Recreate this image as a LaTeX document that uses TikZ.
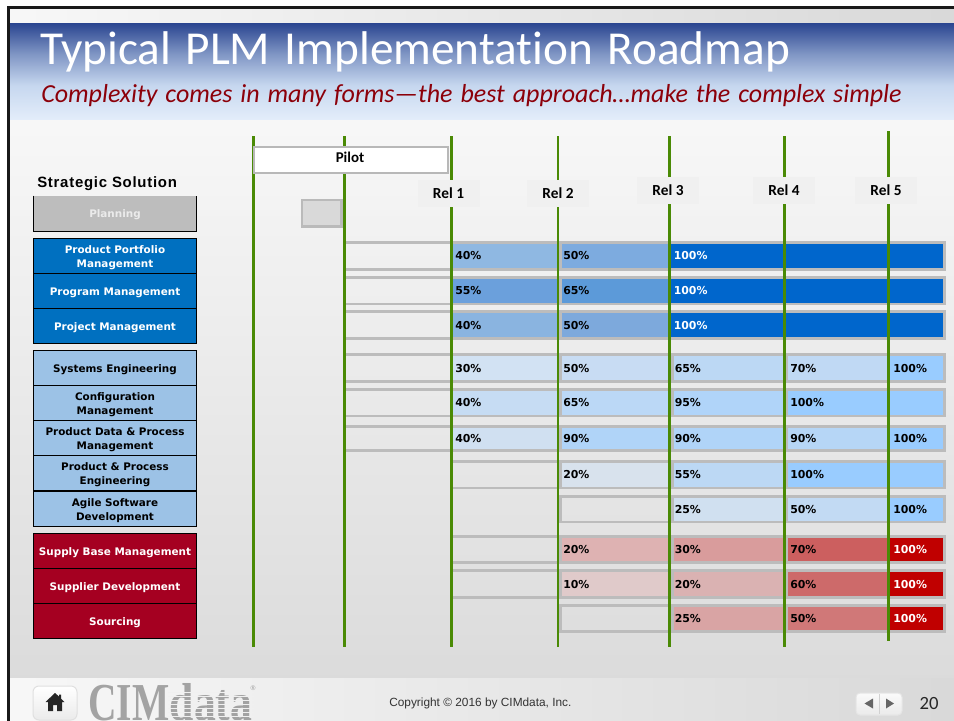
\documentclass[tikz,border=0pt]{standalone}
\usepackage{fontspec}
\setmainfont{Carlito}[Ligatures=NoCommon]
\newfontfamily\ttlfnt{Carlito}[WordSpace=1.3,Ligatures=NoCommon]
\newfontfamily\subfnt{Carlito}[WordSpace=1.35,Ligatures=NoCommon]
\newfontfamily\djv{DejaVu Sans}
\newfontfamily\lib{Liberation Sans}
\newfontfamily\libsp[LetterSpace=5]{Liberation Sans}
\newfontfamily\tms{Liberation Serif}
\definecolor{grn}{HTML}{4A8A05}
\definecolor{brd}{HTML}{BCBCBC}
\definecolor{bandA}{HTML}{2A4590}
\definecolor{bandB}{HTML}{7F95C4}
\definecolor{bandC}{HTML}{C6D7EF}
\definecolor{bandD}{HTML}{E3EDFA}
\pgfdeclareverticalshading{bandshade}{100bp}{color(0bp)=(bandD); color(25bp)=(bandD); color(42.5bp)=(bandC); color(59bp)=(bandB); color(75bp)=(bandA); color(100bp)=(bandA)}
\tikzset{
  x=0.75pt,y=-0.75pt,
  lbox/.style={draw=black,line width=0.75pt,minimum width=122.25pt,minimum height=26.25pt,inner sep=0pt},
  ltxt/.style={inner sep=0pt,align=center,font=\djv\bfseries\fontsize{7.8}{10.4}\selectfont},
  pct/.style={anchor=base west,inner sep=0pt,font=\djv\bfseries\fontsize{8.2}{10}\selectfont},
  rel/.style={fill=#1,inner sep=0pt,minimum width=46.5pt,minimum height=20.25pt,font=\bfseries\fontsize{11.5}{12}\selectfont},
  gline/.style={draw=grn,line width=1.9pt}
}
\def\sB{452.5}\def\eB{557}\def\tB{455}
\def\sC{561.5}\def\eC{669}\def\tC{563}
\def\sD{673.7}\def\eD{784}\def\tD{674.5}
\def\sE{788.3}\def\eE{888}\def\tE{790}
\def\sF{889.5}\def\eF{943}\def\tF{893}
\def\sX{671}\def\tX{673.5}
\newcommand\mkrow[4]{%
  \def\rN{#1}\def\rT{#2}\def\rB{#3}%
  \fill[brd] (#4,#2) rectangle (946,#2+2.7);
  \fill[brd] (#4,#3-2.7) rectangle (946,#3);
  \fill[brd] (943,#2) rectangle (946,#3);
  \fill[brd] (670,#2) rectangle (673.7,#3);
  \fill[brd] (784,#2) rectangle (788.3,#3);
}
\newcommand\gapC{\fill[brd] (557.5,\rT) rectangle (561.5,\rB);}
\newcommand\mkcell[5]{%
  \definecolor{cellc}{HTML}{#3}%
  \fill[cellc] (\csname s#1\endcsname,\rT+2.7) rectangle (\csname e#2\endcsname,\rB-2.7);
  \node[pct,text=#5] (p\rN#1) at (\csname t#1\endcsname,{(\rT+\rB)/2+4}) {#4};
}
% left box: name, y, fill colour, text colour, text
\newcommand\lft[5]{%
  \node[lbox,fill=#3] (#1) at (115,#2) {};
  \node[ltxt,text=#4] (#1 text) at (115,#2+2) {#5};
}
\definecolor{lblue}{RGB}{0,112,192}
\definecolor{llight}{RGB}{156,194,230}
\definecolor{lred}{RGB}{165,0,33}
\begin{document}
\begin{tikzpicture}
\path[use as bounding box,clip] (0,0) rectangle (954,721);
\fill[white] (0,0) rectangle (954,721);
% backgrounds
\shade[left color=white!97!black,right color=black!15!white] (9,9) rectangle (954,23);
\shade[top color=black!3!white,bottom color=black!14!white] (9,119) rectangle (954,678);
\shade[shading=bandshade] (9,23) rectangle (954,119);
\shade[left color=black!3!white,right color=black!15!white] (9,678) rectangle (954,721);
\fill[black!90] (7,6) rectangle (954,9.3);
\fill[black!90] (7,6) rectangle (9.7,721);
% title
\node[anchor=base west,inner sep=0pt,text=white,font=\ttlfnt\fontsize{35.45}{38}\selectfont] (title) at (40,64) {Typical PLM Implementation Roadmap};
\node[anchor=base west,inner sep=0pt,text={rgb,255:red,140;green,0;blue,10},font=\subfnt\itshape\fontsize{19.5}{22}\selectfont] (subtitle) at (41,102) {Complexity comes in many forms—the best approach…make the complex simple};
% left column
\node[anchor=base west,inner sep=0pt,font=\libsp\bfseries\fontsize{11.2}{12}\selectfont] (ss) at (37,187) {Strategic Solution};
\node[fill=black!26,inner sep=0pt,minimum width=122.25pt,minimum height=26.25pt] (plan) at (115,213.5) {};
\node[ltxt,text={black!8}] (plan text) at (115,215) {Planning};
\draw[line width=0.75pt] (plan.north west)--(plan.south west)--(plan.south east)--(plan.north east);
\lft{ppm}{255.5}{lblue}{white}{Product Portfolio\\Management}
\lft{prg}{291}{lblue}{white}{Program Management}
\lft{prj}{326}{lblue}{white}{Project Management}
\lft{sys}{368}{llight}{black}{Systems Engineering}
\lft{cfg}{403}{llight}{black}{Configuration\\Management}
\lft{pdp}{438}{llight}{black}{Product Data \& Process\\Management}
\lft{ppe}{473}{llight}{black}{Product \& Process\\Engineering}
\lft{agl}{508.5}{llight}{black}{Agile Software\\Development}
\lft{sbm}{550.5}{lred}{white}{Supply Base Management}
\lft{sdv}{585.5}{lred}{white}{Supplier Development}
\lft{src}{621}{lred}{white}{Sourcing}
% rows
\mkrow{1}{241}{270.7}{345}\gapC
\mkcell{B}{B}{8FB8E2}{40\%}{black}\mkcell{C}{C}{7DABDF}{50\%}{black}\mkcell{X}{F}{0066CC}{100\%}{white}
\mkrow{2}{276}{305.3}{345}\gapC
\mkcell{B}{B}{6BA0DC}{55\%}{black}\mkcell{C}{C}{5C9AD9}{65\%}{black}\mkcell{X}{F}{0066CC}{100\%}{white}
\mkrow{3}{310.3}{340}{345}\gapC
\mkcell{B}{B}{8AB4E0}{40\%}{black}\mkcell{C}{C}{7DA9DC}{50\%}{black}\mkcell{X}{F}{0066CC}{100\%}{white}
\mkrow{4}{353.3}{382.7}{345}\gapC
\mkcell{B}{B}{D2E2F3}{30\%}{black}\mkcell{C}{C}{C8DCF3}{50\%}{black}\mkcell{D}{D}{BCD8F4}{65\%}{black}\mkcell{E}{E}{C0D9F4}{70\%}{black}\mkcell{F}{F}{99CCFF}{100\%}{black}
\mkrow{5}{388}{417.3}{345}\gapC
\mkcell{B}{B}{C6DCF3}{40\%}{black}\mkcell{C}{C}{BBD8F6}{65\%}{black}\mkcell{D}{D}{B0D4F9}{95\%}{black}\mkcell{E}{F}{99CCFF}{100\%}{black}
\mkrow{6}{425.3}{452}{345}\gapC
\mkcell{B}{B}{D0E0F1}{40\%}{black}\mkcell{C}{C}{B0D4F8}{90\%}{black}\mkcell{D}{D}{B0D4F8}{90\%}{black}\mkcell{E}{E}{B6D6F6}{90\%}{black}\mkcell{F}{F}{99CCFF}{100\%}{black}
\mkrow{7}{460}{489.3}{451}\gapC
\mkcell{C}{C}{D8E2ED}{20\%}{black}\mkcell{D}{D}{BCD8F4}{55\%}{black}\mkcell{E}{F}{99CCFF}{100\%}{black}
\mkrow{8}{495}{523.3}{559}\gapC
\mkcell{D}{D}{D0E0F0}{25\%}{black}\mkcell{E}{E}{C2DAF3}{50\%}{black}\mkcell{F}{F}{99CCFF}{100\%}{black}
\mkrow{9}{535}{564}{451}\gapC
\mkcell{C}{C}{DEB2B2}{20\%}{black}\mkcell{D}{D}{D99C9C}{30\%}{black}\mkcell{E}{E}{CC5F5F}{70\%}{black}\mkcell{F}{F}{C00000}{100\%}{white}
\mkrow{10}{569.3}{598.7}{451}\gapC
\mkcell{C}{C}{E0CACA}{10\%}{black}\mkcell{D}{D}{DAB2B2}{20\%}{black}\mkcell{E}{E}{CD6A6A}{60\%}{black}\mkcell{F}{F}{C00000}{100\%}{white}
\mkrow{11}{604}{632.7}{559}\gapC
\mkcell{D}{D}{D9A4A4}{25\%}{black}\mkcell{E}{E}{D07878}{50\%}{black}\mkcell{F}{F}{C00000}{100\%}{white}
% release lines
\foreach \g/\xx/\ya/\yb in {a/253.7/136/647,b/344.7/136/647,c/451.3/136/647,d/558/136/647,e/669.7/136/647,f/784.3/136/647,g/888.7/131/641}{
  \coordinate (\g top) at (\xx,\ya);
  \coordinate (\g bot) at (\xx,\yb);
  \draw[gline] (\g top) -- (\g bot);
}
% pilot
\node[draw=black!28,line width=1.9pt,fill=white,inner sep=0pt,minimum width=145.5pt,minimum height=19.5pt] (pilot) at (351.2,160) {};
\node[inner sep=0pt,font=\bfseries\fontsize{11.2}{12}\selectfont] (pilotlab) at (350,157) {Pilot};
\node[draw=black!27,line width=1.9pt,fill=black!15,inner sep=0pt,minimum width=29.5pt,minimum height=20pt] (pbox) at (321.8,213.2) {};
% release labels
\node[rel=black!6] (r1) at (448.5,193.5) {Rel 1};
\node[rel=black!6] (r2) at (558,193.5) {Rel 2};
\node[rel=black!6] (r3) at (668,190.5) {Rel 3};
\node[rel=black!6] (r4) at (784,190.5) {Rel 4};
\node[rel=black!6] (r5) at (886,190) {Rel 5};
% footer
\shade[draw=black!12,line width=0.75pt,rounded corners=4.5pt,top color=white,bottom color=black!8] (33,686) rectangle (77,720);
\fill[black!85] (55,693) -- (45.5,702) -- (48,702) -- (48,711) -- (53,711) -- (53,705) -- (57,705) -- (57,711) -- (62,711) -- (62,702) -- (64.5,702) -- (61,698.5) -- (61,694.5) -- (59,694.5) -- (59,696.5) -- cycle;
\node[anchor=base west,inner sep=0pt,text=black!36,xscale=0.74,font=\tms\bfseries\fontsize{40}{41}\selectfont] (cim) at (88,720.5) {CIM};
\node[anchor=base west,inner sep=0pt,text=black!36,xscale=0.82,font=\tms\bfseries\fontsize{40}{41}\selectfont] (data) at (169.5,720.5) {data};
\foreach \yy in {692,696,...,720}{\fill[black!6] (168,\yy) rectangle (254,\yy+1.2);}
\node[inner sep=0pt,text=black!40,font=\lib\fontsize{5}{5}\selectfont] (reg) at (253,688) {®};
\node[anchor=base west,inner sep=0pt,text=black!80,font=\lib\fontsize{8.9}{10}\selectfont] (copy) at (389,706) {Copyright © 2016 by CIMdata, Inc.};
\shade[draw=black!10,line width=0.75pt,rounded corners=3pt,top color=black!2,bottom color=black!8] (856,693) rectangle (902,715);
\draw[black!18,line width=0.6pt] (879.5,694) -- (879.5,714);
\fill[black!60] (864.5,703.5) -- (873,698.5) -- (873,708.5) -- cycle;
\fill[black!60] (894,703.5) -- (886,698.5) -- (886,708.5) -- cycle;
\node[inner sep=0pt,text=black!85,font=\fontsize{14}{16}\selectfont] (page) at (929,703.5) {20};
\end{tikzpicture}
\end{document}
